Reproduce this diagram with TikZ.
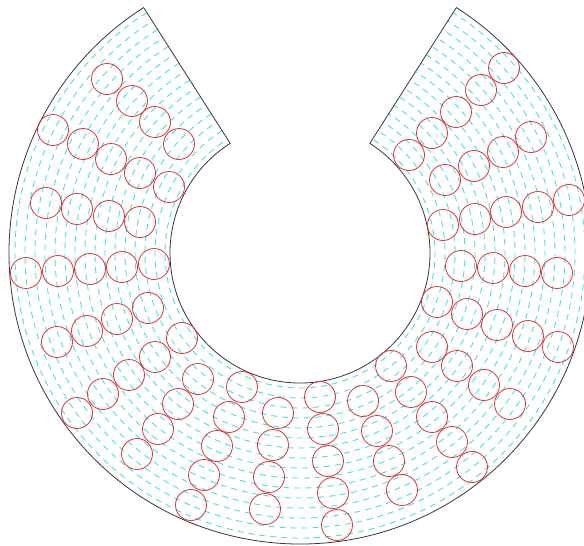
\documentclass[tikz,border=0pt]{standalone}
\definecolor{dashc}{RGB}{70,225,225}
\definecolor{holec}{RGB}{225,50,55}
\definecolor{edgec}{RGB}{55,55,55}
\begin{document}
\begin{tikzpicture}[x=1pt,y=-1pt,
  outline/.style={draw=edgec, line width=0.8pt},
  dashline/.style={draw=dashc, line width=0.9pt, dash pattern=on 6pt off 5pt},
  hole/.style={draw=holec, line width=0.8pt}]
\useasboundingbox (0,0) rectangle (584,546);
\coordinate (c) at (300,253);
% dashed concentric arcs
\foreach \r [count=\i] in {135,145,...,285}{
  \pgfmathsetmacro{\ph}{mod(\i,2)*5.5}
  \draw[dashline, dash phase=\ph pt] ([shift={(237.5:\r)}]c) arc[start angle=237.5, end angle=-57.5, radius=\r];
}
% outline of the annular sector
\draw[outline] ([shift={(237.5:291)}]c) arc[start angle=237.5, end angle=-57.5, radius=291]
  -- ([shift={(-57.5:130)}]c) arc[start angle=-57.5, end angle=237.5, radius=130] -- cycle;
% red circles
\foreach \p in {
  (107,79),(132,101),(155,122),(179,144),
  (53,130),(83,144),(111,159),(140,173),(169,187),
  (46,203),(77,209),(109,216),(140,222),
  (26,273),(58,271),(90,269),(122,267),(154,264),
  (57,342),(87,331),(117,319),(148,308),
  (77,413),(103,394),(129,375),(155,357),(182,338),
  (137,454),(158,429),(178,404),(198,379),
  (242,387),(229,417),(217,446),(204,475),(191,505),
  (278,413),(273,445),(269,477),(265,509),
  (320,397),(323,429),(328,461),(333,493),(337,525),
  (363,401),(377,431),(389,461),(402,490),
  (391,366),(411,392),(432,417),(452,442),(472,467),
  (432,347),(457,366),(484,385),(510,404),
  (437,302),(467,314),(497,325),(528,336),(558,347),
  (461,266),(493,268),(525,271),(557,273),
  (443,225),(475,219),(506,212),(538,207),(569,200),
  (445,180),(474,166),(503,152),(531,137),
  (409,155),(432,133),(456,112),(481,90),(504,68)}
  \draw[hole] \p circle[radius=15.5];
\end{tikzpicture}
\end{document}
